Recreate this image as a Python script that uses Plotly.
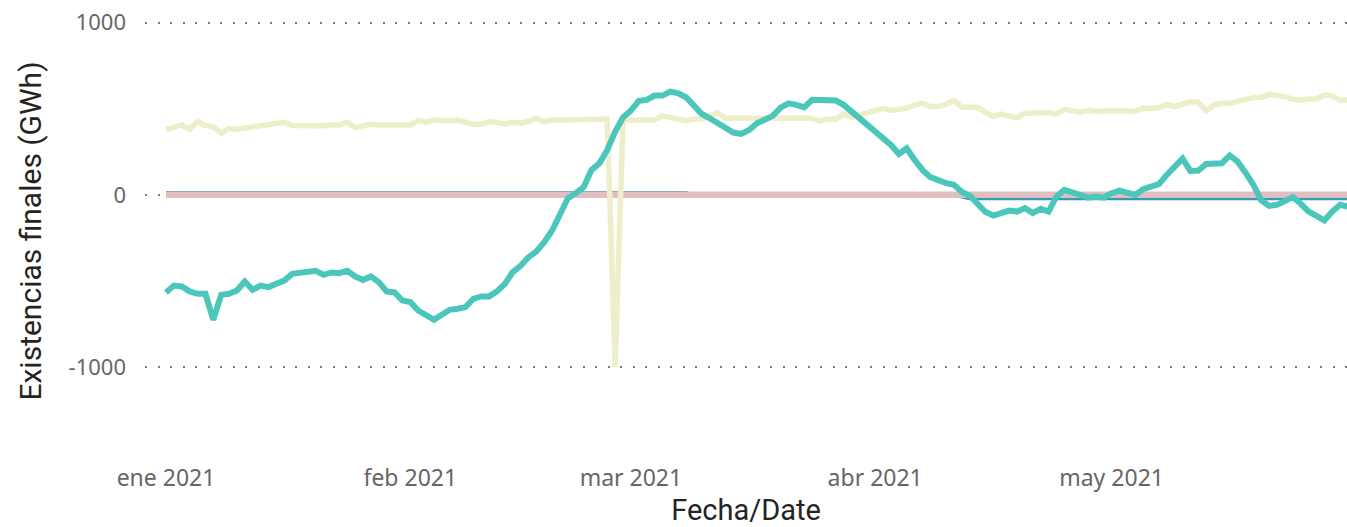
import pandas as pd
import plotly.graph_objects as go

dates = pd.date_range("2021-01-01", "2021-05-31", freq="D")

# Series (GWh), daily Jan 1 - May 31 2021
serie_amarilla = [
    377, 391, 406, 381, 426, 403, 397, 358, 387, 381,
    387, 401, 403, 406, 416, 422, 403, 401, 401, 401,
    401, 406, 406, 422, 391, 401, 410, 406, 406, 406,
    401, 406, 431, 422, 435, 431, 431, 435, 426, 410,
    410, 426, 420, 412, 422, 416, 426, 445, 426, 435,
    435, 435, 435, 435, 435, 435, 441, -1000, 435, 435,
    435, 435, 435, 459, 451, 445, 431, 440, 441, 459,
    478, 445, 445, 445, 445, 445, 445, 441, 440, 440,
    441, 445, 445, 429, 440, 440, 470, 451, 464, 484,
    493, 503, 490, 499, 503, 523, 532, 513, 513, 526,
    548, 509, 509, 509, 480, 455, 470, 461, 449, 474,
    478, 478, 478, 470, 497, 488, 480, 490, 484, 488,
    490, 493, 488, 484, 503, 503, 507, 526, 513, 528,
    541, 538, 488, 523, 532, 532, 546, 555, 565, 567,
    584, 577, 571, 555, 552, 557, 557, 580, 575, 548,
    552,
]

serie_turquesa = [
    -567, -527, -532, -561, -575, -575, -726, -581, -575, -556,
    -503, -552, -527, -536, -517, -498, -459, -451, -451, -441,
    -465, -451, -455, -441, -474, -494, -474, -507, -561, -567,
    -614, -623, -672, -701, -726, -697, -668, -662, -652, -604,
    -590, -590, -561, -517, -449, -412, -362, -329, -275, -207,
    -120, -20, 10, 45, 145, 184, 261, 368, 450, 490,
    546, 552, 577, 577, 600, 590, 567, 519, 470, 445,
    420, 387, 362, 354, 377, 416, 440, 459, 507, 532,
    523, 509, 552, 552, 544, 548, 523, 484, 435, 397,
    358, 329, 290, 238, 271, 203, 145, 103, 81, 68,
    58, 17, -5, -48, -100, -120, -103, -91, -97, -77,
    -106, -81, -97, -10, 29, 10, 0, -16, -10, -16,
    10, 25, 10, 0, 33, 45, 62, 116, 164, 211,
    139, 141, 180, 184, 184, 229, 193, 129, 58, -33,
    -64, -58, -33, -13, -52, -97, -122, -149, -97, -58,
    -68,
]

serie_azul = [
    13, 13, 13, 13, 13, 13, 13, 13, 13, 13,
    13, 13, 13, 13, 13, 13, 13, 13, 13, 13,
    13, 13, 13, 13, 13, 13, 13, 13, 13, 13,
    13, 13, 13, 13, 13, 13, 13, 13, 13, 13,
    13, 13, 13, 13, 13, 13, 13, 13, 13, 13,
    13, 13, 13, 13, 13, 13, 13, 13, 13, 13,
    13, 13, 13, 13, 13, 13, 13, 0, 0, 0,
    0, 0, 0, 0, 0, 0, 0, 0, 0, 0,
    0, 0, 0, 0, 0, 0, 0, 0, 0, 0,
    0, 0, 0, 0, 0, 0, 0, 0, 0, 0,
    0, -12, -23, -23, -23, -23, -23, -23, -23, -23,
    -23, -23, -23, -23, -23, -23, -23, -23, -23, -23,
    -23, -23, -23, -23, -23, -23, -23, -23, -23, -23,
    -23, -23, -23, -23, -23, -23, -23, -23, -23, -23,
    -23, -23, -23, -23, -23, -23, -23, -23, -23, -23,
    -23,
]

serie_rosa = [
    0, 0, 0, 0, 0, 0, 0, 0, 0, 0,
    0, 0, 0, 0, 0, 0, 0, 0, 0, 0,
    0, 0, 0, 0, 0, 0, 0, 0, 0, 0,
    0, 0, 0, 0, 0, 0, 0, 0, 0, 0,
    0, 0, 0, 0, 0, 0, 0, 0, 0, 0,
    0, 0, 0, 0, 0, 0, 0, 0, 0, 0,
    0, 0, 0, 0, 0, 0, 0, 0, 0, 0,
    0, 0, 0, 0, 0, 0, 0, 0, 0, 0,
    0, 0, 0, 0, 0, 0, 0, 0, 0, 0,
    0, 0, 0, 0, 0, 0, 0, 0, 0, 0,
    0, 0, 0, 0, 0, 0, 0, 0, 0, 0,
    0, 0, 0, 0, 0, 0, 0, 0, 0, 0,
    0, 0, 0, 0, 0, 0, 0, 0, 0, 0,
    0, 0, 0, 0, 0, 0, 0, 0, 0, 0,
    0, 0, 0, 0, 0, 0, 0, 0, 0, 0,
    0,
]

x_tick_vals = ["2021-01-01", "2021-02-01", "2021-03-01", "2021-04-01", "2021-05-01"]
x_tick_text = ["ene 2021", "feb 2021", "mar 2021", "abr 2021", "may 2021"]
y_tick_vals = [-1000, 0, 1000]
y_tick_text = ["-1000", "0", "1000"]

fig = go.Figure()
fig.add_trace(go.Scatter(x=dates, y=serie_azul, mode="lines",
                         line=dict(color="#3599B8", width=3), hoverinfo="skip"))
fig.add_trace(go.Scatter(x=dates, y=serie_rosa, mode="lines",
                         line=dict(color="#DFBFC0", width=6.5), hoverinfo="skip"))
fig.add_trace(go.Scatter(x=dates, y=serie_amarilla, mode="lines",
                         line=dict(color="#EEEECA", width=5.5), hoverinfo="skip"))
fig.add_trace(go.Scatter(x=dates, y=serie_turquesa, mode="lines",
                         line=dict(color="#4BC6BA", width=6), hoverinfo="skip"))

fig.update_layout(
    width=1347, height=527,
    margin=dict(l=145, r=0, t=9, b=74),
    paper_bgcolor="white", plot_bgcolor="white",
    showlegend=False,
    font=dict(family="Noto Sans, sans-serif", color="#666666"),
)
fig.update_xaxes(
    automargin=False,
    range=["2020-12-29 08:00", "2021-05-30 21:00"],
    tickvals=x_tick_vals, ticktext=x_tick_text,
    showgrid=False, zeroline=False, showline=False, ticks="",
    tickfont=dict(family="Noto Sans, sans-serif", size=23, color="#666666"),
    ticklabelstandoff=9,
    title=dict(text="Fecha/Date", standoff=19,
               font=dict(family="Roboto, sans-serif", size=29, color="#252423")),
)
fig.update_yaxes(
    automargin=False,
    range=[-1500, 1080],
    tickvals=y_tick_vals, ticktext=y_tick_text,
    showgrid=True, gridcolor="#7a7a7a", gridwidth=2, griddash="2px,10.5px",
    zeroline=False, showline=False, ticks="",
    tickfont=dict(family="Noto Sans, sans-serif", size=22, color="#666666"),
    ticklabelstandoff=18,
    title=dict(text="Existencias finales (GWh)", standoff=18,
               font=dict(family="Roboto, sans-serif", size=30, color="#252423")),
)

fig.write_html("out.html", config={"displayModeBar": False},
               post_script="document.body.style.margin='0px';")
